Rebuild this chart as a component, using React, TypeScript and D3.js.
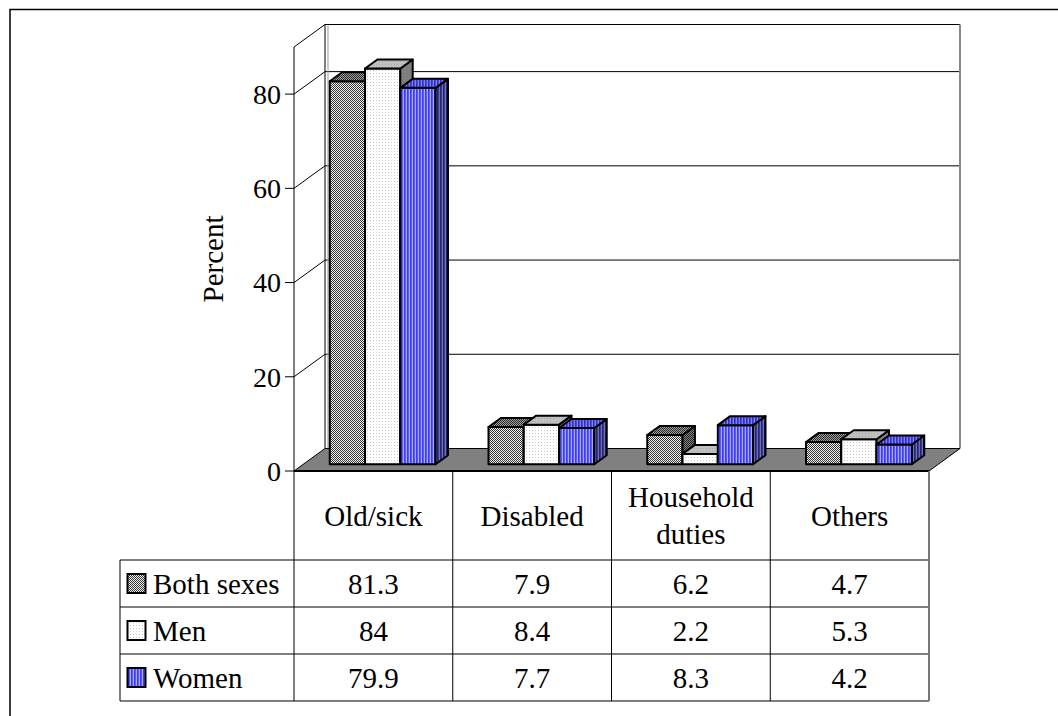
import React from "react";
import * as d3 from "d3";

// Reasons for not seeking work, by sex (percent)
const categories = ["Old/sick", "Disabled", "Household\nduties", "Others"];
const seriesNames = ["Both sexes", "Men", "Women"];
const bothSexes = [81.3, 7.9, 6.2, 4.7];
const men = [84, 8.4, 2.2, 5.3];
const women = [79.9, 7.7, 8.3, 4.2];
const yTicks = [0, 20, 40, 60, 80];
const yMax = 90;

const seriesValues = [bothSexes, men, women];
const seriesKeys = ["both", "men", "women"];

const W = 1058;
const H = 716;
const FONT = "'Liberation Serif', 'Times New Roman', serif";
const FS = 29;

// plot geometry
const x0 = 294;
const x1 = 929;
const yBase = 471;
const yTop = 47;
const DX = 31;
const DY = 22.5;
const zFront = 0.3;
const zBack = 0.7;

// table geometry
const tableLeft = 120;
const rowLines = [471, 560, 607, 654, 701];

export default function App() {
  const xBand = d3.scaleBand<string>().domain(categories).range([x0, x1]);
  const y = d3.scaleLinear().domain([0, yMax]).range([yBase, yTop]);
  const bw = xBand.bandwidth();
  const barW = bw / 4.5;

  const proj = (x: number, v: number, z: number): [number, number] => [
    x + z * DX,
    y(v) - z * DY,
  ];
  const pts = (arr: [number, number][]) => arr.map((p) => p.join(",")).join(" ");

  const bars: React.ReactNode[] = [];
  categories.forEach((cat, ci) => {
    const inner = d3
      .scaleBand<string>()
      .domain(seriesKeys)
      .range([xBand(cat)! + 0.75 * barW, xBand(cat)! + 3.75 * barW]);
    seriesKeys.forEach((key, si) => {
      const v = seriesValues[si][ci];
      const bx = inner(key)!;
      const ex = bx + inner.bandwidth();
      const fBL = proj(bx, 0, zFront);
      const fTL = proj(bx, v, zFront);
      const fTR = proj(ex, v, zFront);
      const fBR = proj(ex, 0, zFront);
      const bTL = proj(bx, v, zBack);
      const bTR = proj(ex, v, zBack);
      const bBR = proj(ex, 0, zBack);
      bars.push(
        <g key={`${ci}-${si}`} stroke="#000" strokeWidth={2} strokeLinejoin="round">
          <polygon points={pts([fBL, fTL, fTR, fBR])} fill={`url(#${key}-front)`} />
          <polygon points={pts([fBR, fTR, bTR, bBR])} fill={`url(#${key}-side)`} />
          <polygon points={pts([fTL, bTL, bTR, fTR])} fill={`url(#${key}-top)`} />
        </g>
      );
    });
  });

  const backL = x0 + DX;
  const backR = x1 + DX;

  return (
    <svg
      width={W}
      height={H}
      style={{ position: "absolute", left: 0, top: 0, background: "#fff" }}
      fontFamily={FONT}
    >
      <defs>
        {/* Both sexes: fine diagonal checker */}
        <pattern id="both-front" width={2} height={2} patternUnits="userSpaceOnUse">
          <rect width={2} height={2} fill="#f4f4f4" />
          <rect x={0} y={0} width={1} height={1} fill="#333333" />
          <rect x={1} y={1} width={1} height={1} fill="#333333" />
        </pattern>
        <pattern id="both-top" width={2} height={2} patternUnits="userSpaceOnUse">
          <rect width={2} height={2} fill="#a0a0a0" />
          <rect x={0} y={0} width={1} height={1} fill="#282828" />
          <rect x={1} y={1} width={1} height={1} fill="#282828" />
        </pattern>
        <pattern id="both-side" width={2} height={2} patternUnits="userSpaceOnUse">
          <rect width={2} height={2} fill="#858585" />
          <rect x={0} y={0} width={1} height={1} fill="#1e1e1e" />
          <rect x={1} y={1} width={1} height={1} fill="#1e1e1e" />
        </pattern>
        {/* Men: white with light dots */}
        <pattern id="men-front" width={3} height={3} patternUnits="userSpaceOnUse">
          <rect width={3} height={3} fill="#ffffff" />
          <rect x={1} y={1} width={1} height={1} fill="#c8c8c8" />
        </pattern>
        <pattern id="men-top" width={3} height={3} patternUnits="userSpaceOnUse">
          <rect width={3} height={3} fill="#c0c0c0" />
          <rect x={1} y={1} width={1} height={1} fill="#a8a8a8" />
        </pattern>
        <pattern id="men-side" width={3} height={3} patternUnits="userSpaceOnUse">
          <rect width={3} height={3} fill="#808080" />
          <rect x={1} y={1} width={1} height={1} fill="#707070" />
        </pattern>
        {/* Women: blue with vertical stripes */}
        <pattern id="women-front" width={3} height={3} patternUnits="userSpaceOnUse">
          <rect width={3} height={3} fill="#5a5aff" />
          <rect x={1} y={0} width={1} height={3} fill="#a8a8ff" />
          <rect x={2} y={0} width={1} height={3} fill="#3c3cf0" />
        </pattern>
        <pattern id="women-top" width={3} height={3} patternUnits="userSpaceOnUse">
          <rect width={3} height={3} fill="#4a4ae0" />
          <rect x={1} y={0} width={1} height={3} fill="#8080f0" />
          <rect x={2} y={0} width={1} height={3} fill="#3030c0" />
        </pattern>
        <pattern id="women-side" width={3} height={3} patternUnits="userSpaceOnUse">
          <rect width={3} height={3} fill="#3a3a90" />
          <rect x={1} y={0} width={1} height={3} fill="#7070b8" />
          <rect x={2} y={0} width={1} height={3} fill="#262670" />
        </pattern>
      </defs>

      {/* outer frame */}
      <rect x={10} y={9.5} width={1100} height={760} fill="none" stroke="#000" strokeWidth={1.5} />

      {/* side wall (left) */}
      <polygon
        points={pts([
          [x0, yBase],
          [x0, yTop],
          [backL, yTop - DY],
          [backL, yBase - DY],
        ])}
        fill="#fff"
        stroke="none"
      />
      {/* back wall */}
      <rect x={backL} y={yTop - DY} width={backR - backL} height={yBase - yTop} fill="#fff" />

      {/* gridlines on walls */}
      {yTicks
        .filter((t) => t > 0)
        .concat([yMax])
        .map((t) => (
          <g key={`g${t}`} stroke="#000" strokeWidth={1}>
            <line x1={x0} y1={y(t)} x2={backL} y2={y(t) - DY} />
            <line x1={backL} y1={y(t) - DY} x2={backR} y2={y(t) - DY} />
          </g>
        ))}
      <line x1={backL} y1={yTop - DY} x2={backL} y2={yBase - DY} stroke="#000" strokeWidth={1} />
      <line x1={backL + 3} y1={yTop - DY + 1} x2={backL + 3} y2={yBase - DY} stroke="#999" strokeWidth={1} />
      <line x1={backR} y1={yTop - DY} x2={backR} y2={yBase - DY} stroke="#888" strokeWidth={2} />

      {/* floor */}
      <polygon
        points={pts([
          [x0, yBase],
          [backL, yBase - DY],
          [backR, yBase - DY],
          [x1, yBase],
        ])}
        fill="#808080"
        stroke="#000"
        strokeWidth={1}
      />

      {/* bars */}
      {bars}

      {/* value axis */}
      <line x1={x0} y1={yTop} x2={x0} y2={yBase} stroke="#000" strokeWidth={1} />
      {yTicks.map((t) => (
        <g key={`t${t}`}>
          <line x1={x0 - 9} y1={y(t)} x2={x0} y2={y(t)} stroke="#000" strokeWidth={1} />
          <text x={x0 - 13} y={y(t)} dy="0.35em" textAnchor="end" fontSize={28}>
            {t}
          </text>
        </g>
      ))}
      <text
        transform={`translate(213,${(yTop + yBase) / 2}) rotate(-90)`}
        textAnchor="middle"
        dy="0.35em"
        fontSize={FS}
      >
        Percent
      </text>

      {/* category axis line */}
      <line x1={x0} y1={yBase} x2={x1} y2={yBase} stroke="#000" strokeWidth={2} />

      {/* data table */}
      <g stroke="#000" strokeWidth={1} fill="none">
        {rowLines.slice(1).map((ry) => (
          <line key={`r${ry}`} x1={tableLeft} y1={ry} x2={x1} y2={ry} />
        ))}
        <line x1={tableLeft} y1={rowLines[1]} x2={tableLeft} y2={rowLines[4]} />
        {categories.map((c) => (
          <line key={`c${c}`} x1={xBand(c)} y1={yBase} x2={xBand(c)} y2={rowLines[4]} />
        ))}
        <line x1={x1} y1={yBase} x2={x1} y2={rowLines[4]} stroke="#777" strokeWidth={2} />
      </g>
      {categories.map((c) => {
        const lines = c.split("\n");
        const cx = xBand(c)! + bw / 2;
        const cy = (rowLines[0] + rowLines[1]) / 2;
        const lh = 37;
        return (
          <text key={`h${c}`} textAnchor="middle" fontSize={FS}>
            {lines.map((ln, i) => (
              <tspan
                key={i}
                x={cx}
                y={cy + (i - (lines.length - 1) / 2) * lh}
                dy="0.35em"
              >
                {ln}
              </tspan>
            ))}
          </text>
        );
      })}
      {seriesNames.map((name, si) => {
        const top = rowLines[si + 1];
        const cy = (top + rowLines[si + 2]) / 2;
        return (
          <g key={`s${name}`}>
            <rect
              x={127.5}
              y={cy - 9.5}
              width={18}
              height={19}
              fill={`url(#${seriesKeys[si]}-front)`}
              stroke="#000"
              strokeWidth={2}
            />
            <text x={153} y={cy} dy="0.35em" fontSize={FS}>
              {name}
            </text>
            {seriesValues[si].map((v, ci) => (
              <text
                key={ci}
                x={xBand(categories[ci])! + bw / 2}
                y={cy}
                dy="0.35em"
                textAnchor="middle"
                fontSize={FS}
              >
                {String(v)}
              </text>
            ))}
          </g>
        );
      })}
    </svg>
  );
}
